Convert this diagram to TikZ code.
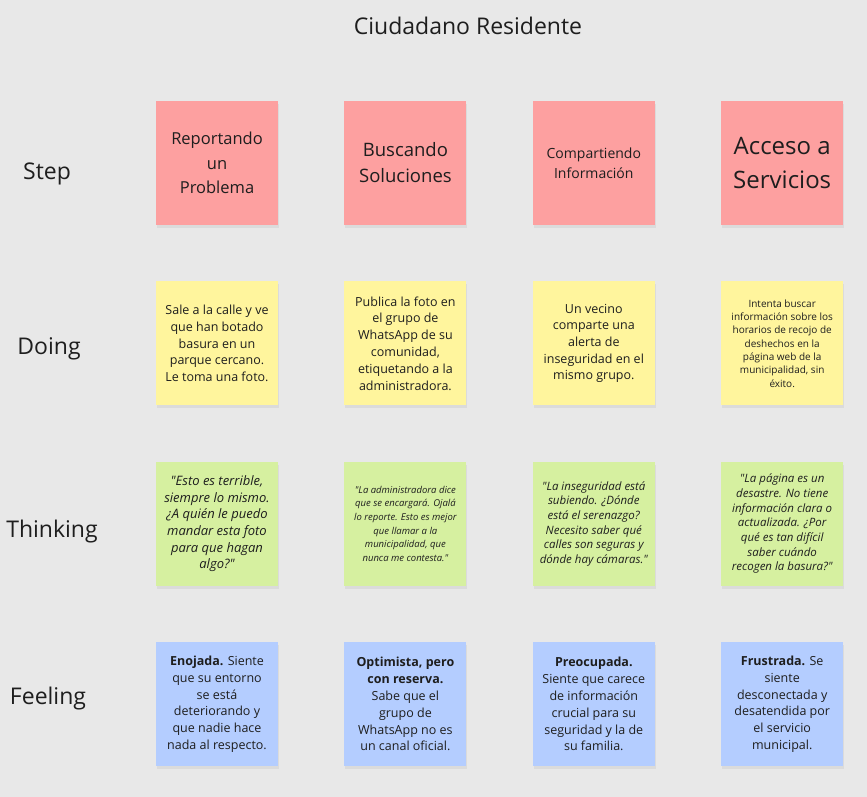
\documentclass[tikz,border=0pt]{standalone}
\usepackage{fontspec}
\setmainfont{Open Sans}[Ligatures=TeXOff]
\usetikzlibrary{positioning,shadows}
\definecolor{board}{RGB}{232,232,232}
\definecolor{steppink}{RGB}{253,160,160}
\definecolor{doyellow}{RGB}{255,245,157}
\definecolor{thinkgreen}{RGB}{214,240,160}
\definecolor{feelblue}{RGB}{180,205,255}
\definecolor{ink}{RGB}{30,30,30}
\tikzstyle{note} = [
  rectangle, text=ink, align=center, minimum width = 122pt, minimum
  height = 124pt, inner sep = 4pt,
  drop shadow = {shadow xshift = 1pt, shadow yshift = -3pt, opacity = .12}
]
\tikzstyle{stepnote} = [note, fill = steppink]
\tikzstyle{doingnote} = [note, fill = doyellow]
\tikzstyle{thinknote} = [note, fill = thinkgreen]
\tikzstyle{feelnote} = [note, fill = feelblue]
\tikzstyle{rowlabel} = [text = ink, font = \fontsize{23}{27}\selectfont]

\begin{document}
\begin{tikzpicture}[x=1pt, y=-1pt, node distance = 56pt and 66pt]
    \fill[board] (0,0) rectangle (867,797);
    \useasboundingbox (0,0) rectangle (867,797);

    \node[rowlabel] (title) at (468,26) {Ciudadano Residente};

    % row labels
    \node[rowlabel] (lstep) at (47,174) {Step};
    \node[rowlabel] (ldoing) at (49,349) {Doing};
    \node[rowlabel] (lthink) at (52,532) {Thinking};
    \node[rowlabel] (lfeel) at (48,699) {Feeling};

    % step
    \node[stepnote, font=\fontsize{16.5}{24.5}\selectfont] (step1) at (217,163)
      {Reportando\\un\\Problema};
    \node[stepnote, right=of step1, font=\fontsize{18.5}{26}\selectfont] (step2)
      {Buscando\\Soluciones};
    \node[stepnote, right=of step2, font=\fontsize{14}{20}\selectfont] (step3)
      {Compartiendo\\Información};
    \node[stepnote, right=of step3, font=\fontsize{24}{34}\selectfont] (step4)
      {Acceso a\\Servicios};

    % doing
    \node[doingnote, below=of step1, font=\fontsize{12.5}{16.7}\selectfont] (doing1)
      {Sale a la calle y ve\\que han botado\\basura en un\\parque cercano.\\Le toma una foto.};
    \node[doingnote, below=of step2, font=\fontsize{12.5}{16.8}\selectfont] (doing2)
      {Publica la foto en\\el grupo de\\WhatsApp de su\\comunidad,\\etiquetando a la\\administradora.};
    \node[doingnote, below=of step3, font=\fontsize{12.5}{16.7}\selectfont] (doing3)
      {Un vecino\\comparte una\\alerta de\\inseguridad en el\\mismo grupo.};
    \node[doingnote, below=of step4, font=\fontsize{10}{13.3}\selectfont] (doing4)
      {Intenta buscar\\información sobre los\\horarios de recojo de\\deshechos en la\\página web de la\\municipalidad, sin\\éxito.};

    % thinking
    \node[thinknote, below=of doing1, font=\fontsize{13}{16.6}\selectfont\itshape] (think1)
      {"Esto es terrible,\\siempre lo mismo.\\¿A quién le puedo\\mandar esta foto\\para que hagan\\algo?"};
    \node[thinknote, below=of doing2, font=\fontsize{9.5}{13.6}\selectfont\itshape] (think2)
      {"La administradora dice\\que se encargará. Ojalá\\lo reporte. Esto es mejor\\que llamar a la\\municipalidad, que\\nunca me contesta."};
    \node[thinknote, below=of doing3, font=\fontsize{11.5}{14.6}\selectfont\itshape] (think3)
      {"La inseguridad está\\subiendo. ¿Dónde\\está el serenazgo?\\Necesito saber qué\\calles son seguras y\\dónde hay cámaras."};
    \node[thinknote, below=of doing4, font=\fontsize{11.5}{14.7}\selectfont\itshape] (think4)
      {"La página es un\\desastre. No tiene\\información clara o\\actualizada. ¿Por\\qué es tan difícil\\saber cuándo\\recogen la basura?"};

    % feeling
    \node[feelnote, below=of think1, font=\fontsize{12.5}{16.8}\selectfont] (feel1)
      {\textbf{Enojada.} Siente\\que su entorno\\se está\\deteriorando y\\que nadie hace\\nada al respecto.};
    \node[feelnote, below=of think2, font=\fontsize{12.5}{16.8}\selectfont] (feel2)
      {\textbf{Optimista, pero}\\\textbf{con reserva.}\\Sabe que el\\grupo de\\WhatsApp no es\\un canal oficial.};
    \node[feelnote, below=of think3, font=\fontsize{12.5}{16.8}\selectfont] (feel3)
      {\textbf{Preocupada.}\\Siente que carece\\de información\\crucial para su\\seguridad y la de\\su familia.};
    \node[feelnote, below=of think4, font=\fontsize{12.5}{16.8}\selectfont] (feel4)
      {\textbf{Frustrada.} Se\\siente\\desconectada y\\desatendida por\\el servicio\\municipal.};
\end{tikzpicture}
\end{document}
